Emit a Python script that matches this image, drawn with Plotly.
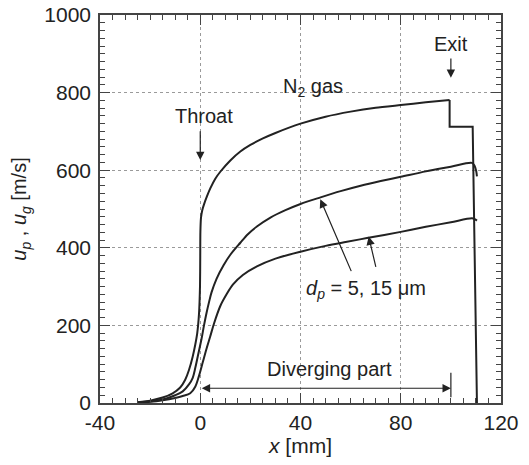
import plotly.graph_objects as go

# ---- data ----
# N2 gas velocity: smooth part up to the exit, then the step at the exit
gas_x = [-25, -20, -15, -11, -8, -6, -4.5, -3, -2, -1.2, -0.5, -0.1, 0, 0.05, 0.3, 0.8, 1.5,
         2.7, 4, 6, 8, 12, 16, 20, 25, 30, 40, 50, 60, 70, 80, 90, 99.5]
gas_y = [2, 6, 14, 25, 40, 60, 85, 120, 150, 180, 230, 300, 380, 440, 478, 497, 512,
         533, 553, 578, 596, 625, 648, 665, 682, 696, 720, 738, 751, 761, 768, 775, 781]
gas_exit_x = [99.5, 99.5, 108.7, 110.4]
gas_exit_y = [781, 712, 712, 0]

# particle velocity, d_p = 5 um
p5_x = [-25, -20, -15, -10, -7, -4.5, -3, -2, -1, 0.5, 1.5, 2.5, 3.5, 4.5, 6.5, 9.3, 12, 16,
        19, 22.6, 28, 34, 40, 48, 56, 64, 72, 80, 90, 100, 108.4, 109.4, 110.1, 110.4]
p5_y = [1, 4, 9, 20, 30, 48, 65, 90, 120, 165, 200, 232, 260, 285, 320, 355, 382, 413,
        435, 455, 478, 497, 513, 530, 546, 560, 572, 583, 597, 609, 619, 612, 598, 584]

# particle velocity, d_p = 15 um
p15_x = [-25, -20, -15, -10, -7, -4, -2, -0.5, 1, 2.5, 4, 5.5, 8, 10.5, 13, 17, 22.6, 30, 40,
         50, 58, 66.5, 80, 90, 100, 108.4, 109.5, 110.4]
p15_y = [1, 3, 7, 13, 18, 25, 42, 70, 105, 140, 172, 205, 250, 280, 305, 330, 352, 372, 390,
         405, 415, 425, 441, 454, 466, 476, 474, 470]

x_range = [-40, 120]
y_range = [0, 1000]
x_ticks = [-40, 0, 40, 80, 120]
y_ticks = [0, 200, 400, 600, 800, 1000]

FONT = "Liberation Sans, Arial, sans-serif"
INK = "#222222"
FRAME = "#444444"

fig = go.Figure()
fig.add_trace(go.Scatter(x=gas_x, y=gas_y, mode="lines",
                         line=dict(color=INK, width=2, shape="spline", smoothing=0.6),
                         showlegend=False, hoverinfo="skip"))
fig.add_trace(go.Scatter(x=gas_exit_x, y=gas_exit_y, mode="lines",
                         line=dict(color=INK, width=2), showlegend=False, hoverinfo="skip"))
for xs, ys in [(p5_x, p5_y), (p15_x, p15_y)]:
    fig.add_trace(go.Scatter(x=xs, y=ys, mode="lines",
                             line=dict(color=INK, width=2, shape="spline", smoothing=0.9),
                             showlegend=False, hoverinfo="skip"))
# invisible trace so the mirrored (top/right) tick axes are drawn
fig.add_trace(go.Scatter(x=[x_range[0]], y=[y_range[0]], xaxis="x2", yaxis="y2",
                         mode="markers", marker=dict(opacity=0), showlegend=False,
                         hoverinfo="skip"))

axis_common = dict(
    showline=True, linecolor=FRAME, linewidth=1.5,
    ticks="inside", ticklen=10, tickwidth=1, tickcolor=FRAME,
    zeroline=False, automargin=False,
    tickfont=dict(family=FONT, size=21, color=INK),
)

fig.update_layout(
    xaxis=dict(range=x_range, tickvals=x_ticks, ticktext=[str(v) for v in x_ticks],
               showgrid=True, gridcolor="#9a9a9a", gridwidth=1, griddash="dot",
               minor=dict(dtick=5, ticks="inside", ticklen=5, tickcolor=FRAME, showgrid=False),
               title=dict(text="<i>x</i> [mm]", font=dict(family=FONT, size=21, color=INK),
                          standoff=5),
               **axis_common),
    yaxis=dict(range=y_range, tickvals=y_ticks, ticktext=[str(v) for v in y_ticks],
               showgrid=True, gridcolor="#9a9a9a", gridwidth=1, griddash="dot",
               minor=dict(dtick=20, ticks="inside", ticklen=5, tickcolor=FRAME, showgrid=False),
               title=dict(text="<i>u<sub>p</sub></i> , <i>u<sub>g</sub></i> [m/s]",
                          font=dict(family=FONT, size=20, color=INK), standoff=12),
               ticklabelstandoff=3,
               **axis_common),
    xaxis2=dict(range=x_range, overlaying="x", side="top", tickvals=x_ticks,
                showticklabels=False, showgrid=False,
                minor=dict(dtick=5, ticks="inside", ticklen=5, tickcolor=FRAME, showgrid=False),
                **axis_common),
    yaxis2=dict(range=y_range, overlaying="y", side="right", tickvals=y_ticks,
                showticklabels=False, showgrid=False,
                minor=dict(dtick=20, ticks="inside", ticklen=5, tickcolor=FRAME, showgrid=False),
                **axis_common),
)

txt = dict(family=FONT, size=20, color=INK)
ann = []
def label(x, y, t):
    ann.append(dict(x=x, y=y, xref="x", yref="y", text=t, showarrow=False, font=txt))
def arrow(x, y, ax, ay, side="end"):
    ann.append(dict(x=x, y=y, ax=ax, ay=ay, xref="x", yref="y", axref="x", ayref="y",
                    text="", showarrow=True, arrowhead=2, arrowsize=1.4, arrowwidth=1.2,
                    arrowcolor=INK, arrowside=side, standoff=0, startstandoff=0))

label(1.6, 740, "Throat")
label(44.8, 812, "N<sub>2</sub> gas")
label(100.1, 924, "Exit")
label(51.7, 88, "Diverging part")
label(66.2, 292, "<i>d<sub>p</sub></i> = 5, 15 μm")

arrow(0, 626, 0, 704)
arrow(100, 838, 100, 892)
arrow(47.9, 525, 60.5, 336)
arrow(67.2, 429, 70.2, 347)
arrow(100, 38, 0, 38, side="end+start")

fig.add_shape(type="line", x0=100, x1=100, y0=15, y1=78, xref="x", yref="y",
              line=dict(color=INK, width=1.2))

fig.update_layout(
    width=529, height=465,
    margin=dict(l=100, r=28, t=15, b=62),
    paper_bgcolor="white", plot_bgcolor="white",
    annotations=ann,
    font=dict(family=FONT, color=INK),
)

fig.write_html("out.html")
